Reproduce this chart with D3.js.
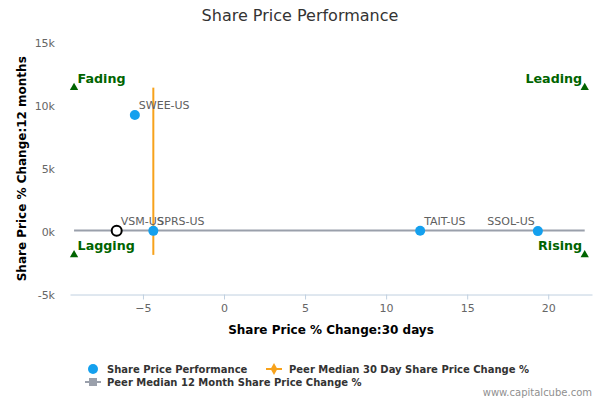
<!DOCTYPE html>
<html>
<head>
<meta charset="utf-8">
<script src="https://cdn.jsdelivr.net/npm/d3@7"></script>
<style>
  body { margin: 0; background: #fff; }
  text { font-family: "DejaVu Sans", sans-serif; }
</style>
</head>
<body>
<div id="chart"></div>
<script>
// share price data
var tickers = ["SWEE-US", "VSM-US", "SPRS-US", "TAIT-US", "SSOL-US"];
var change30d = [-5.5, -6.62, -4.36, 12.1, 19.36];
var change12m = [9270, 70, 60, 70, 40];
var highlight = "VSM-US";

// peer medians and quadrant extents
var medianX = -4.36;
var medianY = 90;
var quadX = [-9.25, 22.25];
var quadY = [-1850, 11450];
var quadNames = ["Fading", "Leading", "Lagging", "Rising"];

var xTicks = [-5, 0, 5, 10, 15, 20];
var yTicks = [-5000, 0, 5000, 10000, 15000];

var svgWidth = 600;
var svgHeight = 400;
var margin = { top: 43, right: 8, bottom: 105.5, left: 70 };
var width = svgWidth - margin.left - margin.right;
var height = svgHeight - margin.top - margin.bottom;

var blue = "#14a0ee";
var orange = "#f7a21b";
var grey = "#9aa0ab";
var green = "#006400";

var svg = d3.select("#chart")
    .append("svg")
    .attr("width", svgWidth)
    .attr("height", svgHeight);

svg.append("text")
    .attr("x", 300)
    .attr("y", 21)
    .attr("text-anchor", "middle")
    .style("font-size", "16px")
    .style("fill", "#333")
    .text("Share Price Performance");

var chartGroup = svg.append("g")
    .attr("transform", `translate(${margin.left}, ${margin.top})`);

var x = d3.scaleLinear()
    .domain([-9.5, 22.7])
    .range([0, width]);

var y = d3.scaleLinear()
    .domain([-5000, 15000])
    .range([height, 0]);

// x axis
var xAxis = chartGroup.append("g")
    .attr("transform", `translate(0, ${height})`)
    .call(d3.axisBottom(x).tickValues(xTicks).tickSize(5).tickPadding(5).tickSizeOuter(0));
xAxis.select(".domain").attr("stroke", "#c0d0e0");
xAxis.selectAll(".tick line").attr("stroke", "#c0d0e0");
xAxis.selectAll("text")
    .style("font-size", "11px")
    .style("fill", "#666")
    .style("font-family", "DejaVu Sans, sans-serif");

// y axis (labels only)
var yAxis = chartGroup.append("g")
    .call(d3.axisLeft(y).tickValues(yTicks).tickSize(0).tickPadding(15)
        .tickFormat(d => (d / 1000) + "k"));
yAxis.select(".domain").remove();
yAxis.selectAll("text")
    .style("font-size", "11px")
    .style("fill", "#666")
    .style("font-family", "DejaVu Sans, sans-serif");

// peer median lines
chartGroup.append("line")
    .attr("x1", x(quadX[0]))
    .attr("x2", x(quadX[1]))
    .attr("y1", y(medianY))
    .attr("y2", y(medianY))
    .attr("stroke", grey)
    .attr("stroke-width", 2);

chartGroup.append("line")
    .attr("x1", x(medianX))
    .attr("x2", x(medianX))
    .attr("y1", y(quadY[0]))
    .attr("y2", y(quadY[1]))
    .attr("stroke", orange)
    .attr("stroke-width", 2);

// quadrant markers
var quads = [
    { name: quadNames[0], x: quadX[0], y: quadY[1] },
    { name: quadNames[1], x: quadX[1], y: quadY[1] },
    { name: quadNames[2], x: quadX[0], y: quadY[0] },
    { name: quadNames[3], x: quadX[1], y: quadY[0] }
];

chartGroup.selectAll(".quad")
    .data(quads)
    .enter()
    .append("path")
    .attr("d", d3.symbol().type(d3.symbolTriangle).size(30))
    .attr("transform", d => `translate(${x(d.x)}, ${y(d.y)})`)
    .attr("fill", green);

chartGroup.selectAll(".quadLabel")
    .data(quads)
    .enter()
    .append("text")
    .attr("x", d => d.x < 0 ? x(d.x) + 3.5 : x(d.x) - 2.5)
    .attr("y", d => y(d.y) - 5)
    .attr("text-anchor", d => d.x < 0 ? "start" : "end")
    .style("font-size", "12.7px")
    .style("font-weight", "bold")
    .style("fill", green)
    .text(d => d.name);

// company points
var points = tickers.map((t, i) => ({ ticker: t, x: change30d[i], y: change12m[i] }));

chartGroup.selectAll(".pt")
    .data(points)
    .enter()
    .append("circle")
    .attr("cx", d => x(d.x))
    .attr("cy", d => y(d.y))
    .attr("r", 5)
    .attr("fill", d => d.ticker == highlight ? "#fff" : blue)
    .attr("stroke", d => d.ticker == highlight ? "#000" : "none")
    .attr("stroke-width", 2);

// labels that would run past the quadrant edge go to the left of the point
function flip(d) {
    return x(d.x) + 55 > x(quadX[1]);
}

chartGroup.selectAll(".ptLabel")
    .data(points)
    .enter()
    .append("text")
    .attr("x", d => flip(d) ? x(d.x) - 3 : x(d.x) + 4)
    .attr("y", d => y(d.y) - 6)
    .attr("text-anchor", d => flip(d) ? "end" : "start")
    .style("font-size", "11px")
    .style("fill", "#606060")
    .text(d => d.ticker);

// axis titles
chartGroup.append("text")
    .attr("x", width / 2)
    .attr("y", height + 39)
    .attr("text-anchor", "middle")
    .style("font-size", "12px")
    .style("font-weight", "bold")
    .style("fill", "#000")
    .text("Share Price % Change:30 days");

chartGroup.append("text")
    .attr("transform", "rotate(-90)")
    .attr("x", -height / 2)
    .attr("y", -margin.left + 26)
    .attr("text-anchor", "middle")
    .style("font-size", "12px")
    .style("font-weight", "bold")
    .style("fill", "#000")
    .text("Share Price % Change:12 months");

// legend
var legend = svg.append("g");

legend.append("circle")
    .attr("cx", 93).attr("cy", 369).attr("r", 5)
    .attr("fill", blue);
legend.append("text")
    .attr("x", 107).attr("y", 372.5)
    .style("font-size", "10px").style("font-weight", "bold").style("fill", "#333")
    .text("Share Price Performance");

legend.append("line")
    .attr("x1", 266).attr("x2", 282).attr("y1", 369).attr("y2", 369)
    .attr("stroke", orange).attr("stroke-width", 2);
legend.append("path")
    .attr("d", d3.symbol().type(d3.symbolDiamond).size(40))
    .attr("transform", "translate(274, 369)")
    .attr("fill", orange);
legend.append("text")
    .attr("x", 289).attr("y", 372.5)
    .style("font-size", "10px").style("font-weight", "bold").style("fill", "#333")
    .text("Peer Median 30 Day Share Price Change %");

legend.append("line")
    .attr("x1", 85).attr("x2", 101).attr("y1", 382).attr("y2", 382)
    .attr("stroke", grey).attr("stroke-width", 2);
legend.append("rect")
    .attr("x", 89).attr("y", 378).attr("width", 8).attr("height", 8)
    .attr("fill", grey);
legend.append("text")
    .attr("x", 107).attr("y", 385.5)
    .style("font-size", "10px").style("font-weight", "bold").style("fill", "#333")
    .text("Peer Median 12 Month Share Price Change %");

svg.append("text")
    .attr("x", 592).attr("y", 396)
    .attr("text-anchor", "end")
    .style("font-size", "10px")
    .style("fill", "#909090")
    .text("www.capitalcube.com");
</script>
</body>
</html>
